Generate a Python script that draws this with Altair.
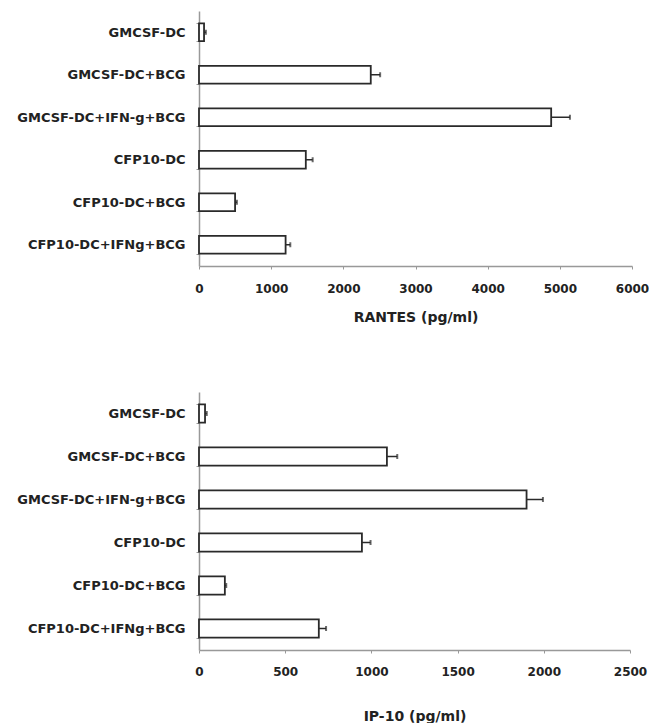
import altair as alt
import pandas as pd

categories = ["GMCSF-DC", "GMCSF-DC+BCG", "GMCSF-DC+IFN-g+BCG",
              "CFP10-DC", "CFP10-DC+BCG", "CFP10-DC+IFNg+BCG"]

rantes_values = [70, 2380, 4880, 1480, 500, 1200]
rantes_errors = [25, 130, 260, 95, 25, 65]
rantes_ticks = [0, 1000, 2000, 3000, 4000, 5000, 6000]

ip10_values = [35, 1090, 1900, 945, 150, 695]
ip10_errors = [10, 60, 95, 50, 8, 42]
ip10_ticks = [0, 500, 1000, 1500, 2000, 2500]

FONT = "DejaVu Sans"


def panel(values, errors, ticks, title, width, height, label_pad, title_pad):
    df = pd.DataFrame({"cond": categories, "value": values, "err": errors})
    df["hi"] = df["value"] + df["err"]
    y = alt.Y("cond:N", sort=categories, title=None,
              scale=alt.Scale(paddingInner=0.58, paddingOuter=0.29),
              axis=alt.Axis(labelFont=FONT, labelFontWeight="bold", labelFontSize=13,
                            labelColor="#222", labelPadding=11, tickSize=3,
                            tickBand="extent", tickColor="#999", domainColor="#999",
                            domainWidth=1.5))
    xscale = alt.Scale(domain=[ticks[0], ticks[-1]], nice=False)
    xaxis = alt.Axis(values=ticks, format="d", labelFont=FONT, labelFontWeight="bold",
                     labelFontSize=12, labelColor="#222", labelPadding=label_pad,
                     tickSize=3, tickColor="#999", domainColor="#999", domainWidth=1.5,
                     grid=False, title=title, titleFont=FONT, titleFontWeight="bold",
                     titleFontSize=14, titleColor="#222", titlePadding=title_pad,
                     labelFlush=False)
    base = alt.Chart(df)
    bars = base.mark_bar(fill="white", stroke="#2a2a2a", strokeWidth=1.8).encode(
        x=alt.X("value:Q", scale=xscale, axis=xaxis), y=y)
    rule = base.mark_rule(color="#2a2a2a", strokeWidth=1.5).encode(
        x=alt.X("value:Q", scale=xscale), x2="hi:Q", y=y)
    cap = base.mark_tick(color="#2a2a2a", size=5, thickness=2).encode(
        x=alt.X("hi:Q", scale=xscale), y=y)
    return alt.layer(rule, bars, cap).properties(width=width, height=height)


top = panel(rantes_values, rantes_errors, rantes_ticks, "RANTES (pg/ml)", 433, 255, 14, 16)
bottom = panel(ip10_values, ip10_errors, ip10_ticks, "IP-10 (pg/ml)", 431, 258, 13, 32)

chart = alt.vconcat(top, bottom, spacing=62).properties(
    padding={"left": 8, "top": -3, "right": 0, "bottom": 0}
).configure_view(strokeWidth=0, stroke=None)

chart.save("out.html", embed_options={"renderer": "svg", "actions": False})
